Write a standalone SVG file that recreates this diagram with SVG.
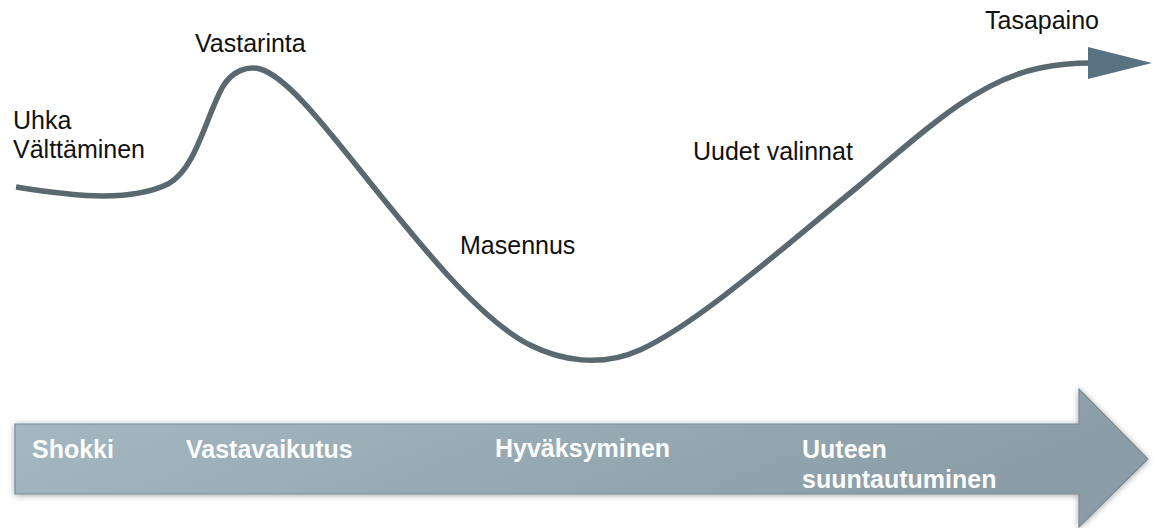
<svg xmlns="http://www.w3.org/2000/svg" width="1157" height="528" viewBox="0 0 1157 528">
  <style>
    .lbl { font-family: "Liberation Sans", Arial, sans-serif; font-size: 25px; fill: #111; }
    .stage { font-family: "Liberation Sans", Arial, sans-serif; font-size: 25px; font-weight: bold; fill: #fbfcfc; }
    .curve { fill: none; stroke: #5a6970; stroke-width: 5.5; stroke-linecap: butt; }
  </style>
  <defs>
    <linearGradient id="bandGrad" x1="0" y1="0" x2="1" y2="0.3">
      <stop offset="0" stop-color="#a7b9c2"/>
      <stop offset="1" stop-color="#8a9da7"/>
    </linearGradient>
    <filter id="shadow" x="-5%" y="-20%" width="110%" height="140%">
      <feDropShadow dx="0" dy="1" stdDeviation="3" flood-color="#000" flood-opacity="0.35"/>
    </filter>
  </defs>

  <g id="timeline">
    <polygon points="15,424 1079,424 1079,389 1148,459 1079,527 1079,494 15,494" fill="url(#bandGrad)" stroke="#7a8c95" stroke-width="1.2" filter="url(#shadow)"/>
  </g>

  <g id="connectors">
    <path class="curve" d="M16,187 C55,193 125,205 168,184 C195,170 205,120 222,88 C232,70 248,66 260,69 C285,76 320,120 360,170 C420,245 480,320 530,345 C560,360 600,368 640,350 C700,322 780,250 860,185 C930,125 980,80 1040,68 C1060,64 1075,63 1090,63"/>
    <polygon points="1088,47 1152,63 1088,79" fill="#587282"/>
  </g>

  <g id="node-uhka">
    <text class="lbl" x="13" y="129">Uhka</text>
    <text class="lbl" x="13" y="158">Välttäminen</text>
  </g>
  <g id="node-vastarinta">
    <text class="lbl" x="195" y="52">Vastarinta</text>
  </g>
  <g id="node-masennus">
    <text class="lbl" x="460" y="254">Masennus</text>
  </g>
  <g id="node-uudet">
    <text class="lbl" x="693" y="160">Uudet valinnat</text>
  </g>
  <g id="node-tasapaino">
    <text class="lbl" x="985" y="29">Tasapaino</text>
  </g>

  <g id="stage-shokki">
    <text class="stage" x="32" y="458">Shokki</text>
  </g>
  <g id="stage-vastavaikutus">
    <text class="stage" x="186" y="458">Vastavaikutus</text>
  </g>
  <g id="stage-hyvaksyminen">
    <text class="stage" x="495" y="457">Hyväksyminen</text>
  </g>
  <g id="stage-uuteen">
    <text class="stage" x="802" y="458">Uuteen</text>
    <text class="stage" x="802" y="488">suuntautuminen</text>
  </g>
</svg>
